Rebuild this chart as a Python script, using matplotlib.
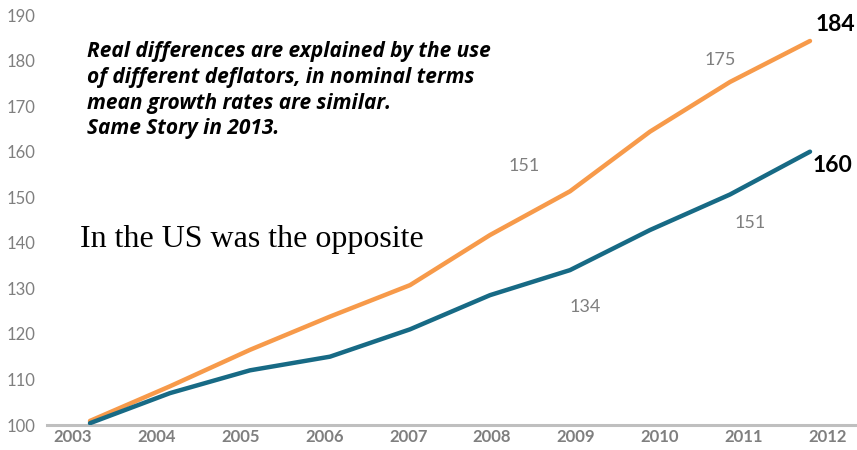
import matplotlib
matplotlib.use("Agg")
import matplotlib.pyplot as plt
import numpy as np

# data
years = ["2003", "2004", "2005", "2006", "2007", "2008", "2009", "2010", "2011", "2012"]
orange_vals = [100.9, 108.5, 116.5, 123.8, 130.7, 141.7, 151.3, 164.4, 175.3, 184.3]
teal_vals = [100.4, 107.0, 112.0, 115.0, 121.0, 128.5, 134.0, 142.8, 150.6, 160.0]
yticks = [100, 110, 120, 130, 140, 150, 160, 170, 180, 190]

# gray value labels: (series, index, text, dx px, dy px)
value_labels = [
    ("orange", 6, "151", -46, 25),
    ("orange", 8, "175", -10, 22),
    ("teal", 6, "134", 15, -37),
    ("teal", 8, "151", 20, -29),
]
end_labels = [("orange", "184", 25, 16), ("teal", "160", 23, -14)]

ORANGE = "#F79A4A"
TEAL = "#176A85"
GRAY = "#7F7F7F"

plt.rcParams['font.family'] = ['Lato', 'DejaVu Sans']

W, H = 857, 450
fig = plt.figure(figsize=(W / 100, H / 100), dpi=100)
# axes box in pixels: left 47, right 855, bottom 425, top 15
ax = fig.add_axes([47 / W, 25 / H, (855 - 47) / W, (425 - 15) / H])

x = np.arange(len(years))
series = {"orange": orange_vals, "teal": teal_vals}
ax.plot(x, orange_vals, color=ORANGE, lw=3.2, solid_capstyle='round', zorder=3)
ax.plot(x, teal_vals, color=TEAL, lw=3.2, solid_capstyle='round', zorder=3)

ax.set_xlim(-0.5375, 9.5625)
ax.set_ylim(100, 190)

for s in ["left", "right", "top"]:
    ax.spines[s].set_visible(False)
ax.spines["bottom"].set_color("#BFBFBF")
ax.spines["bottom"].set_linewidth(2.2)
ax.spines["bottom"].set_zorder(1)

ax.set_yticks(yticks)
ax.set_yticklabels([str(v) for v in yticks], color=GRAY, fontsize=12)
# year labels sit on a slightly wider spacing than the line points
ax.set_xticks(-0.2125 + 1.0475 * x)
ax.set_xticklabels(years, color=GRAY, fontsize=12, fontweight='bold')
ax.tick_params(axis='both', length=0)
ax.tick_params(axis='y', pad=8)
ax.tick_params(axis='x', pad=3)

for name, i, txt, dx, dy in value_labels:
    ax.annotate(txt, (x[i], series[name][i]), xytext=(dx, dy), textcoords='offset pixels',
                ha='center', va='center', color=GRAY, fontsize=13)
for name, txt, dx, dy in end_labels:
    ax.annotate(txt, (x[-1], series[name][-1]), xytext=(dx, dy), textcoords='offset pixels',
                ha='center', va='center', color='black', fontsize=16.5, fontweight='bold')

note = ("Real differences are explained by the use\n"
        "of different deflators, in nominal terms\n"
        "mean growth rates are similar.\n"
        "Same Story in 2013.")
fig.text(87 / W, 1 - 41 / H, note, ha='left', va='top', fontsize=15,
         fontweight='bold', fontstyle='italic', linespacing=1.3,
         family=['Open Sans', 'DejaVu Sans'])

fig.text(80 / W, 1 - 240 / H, "In the US was the opposite", ha='left', va='center',
         fontsize=23, family=['Liberation Serif', 'DejaVu Serif'])

fig.savefig("out.png", dpi=100)
